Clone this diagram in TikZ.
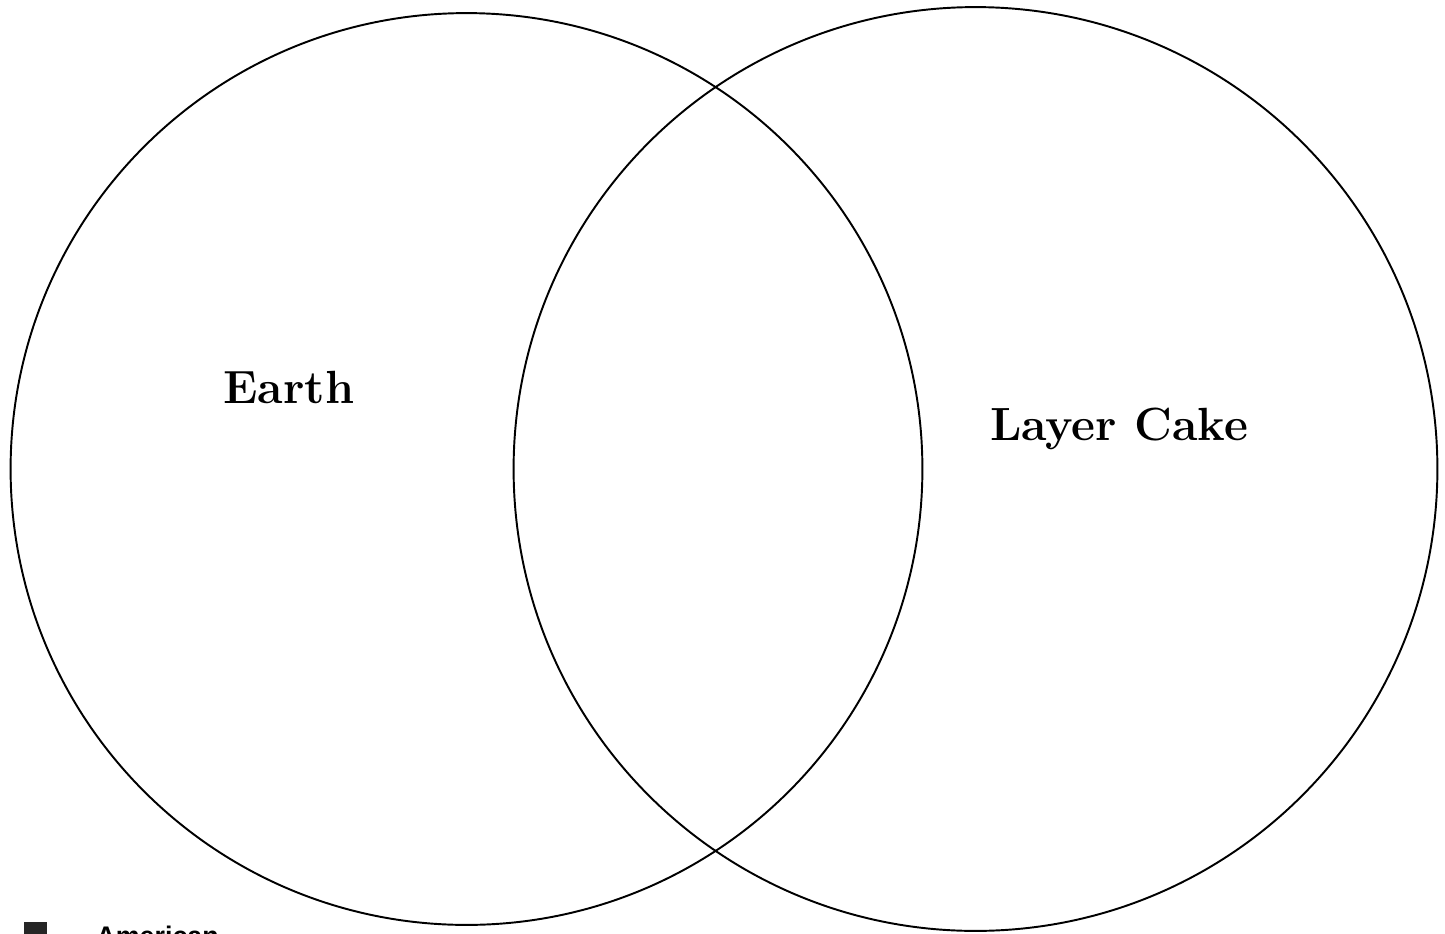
\documentclass[tikz,border=0pt]{standalone}
\usepackage{fontspec}
\newfontfamily\labelsans{Liberation Sans}

\begin{document}
\begin{tikzpicture}[x=0.02cm,y=-0.02cm,line cap=round,line join=round]
  \useasboundingbox (0,0) rectangle (1445,934);
  \coordinate (L) at (466.5,469);
  \coordinate (R) at (975.5,469);
  \draw[line width=1.1pt] (L) circle[radius=9.12cm];
  \draw[line width=1.1pt] (R) circle[radius=9.24cm];
  \node (earth) at (289,387) {\fontsize{26.5}{30}\selectfont\bfseries Earth};
  \node (cake) at (1119,429) {\fontsize{26.5}{30}\selectfont\bfseries Layer Cake};
  \fill[black!85] (24,922) rectangle (47,940);
  \node[anchor=north west,inner sep=0pt] (pub) at (96,925.5) {\labelsans\fontsize{15.3}{18}\selectfont\bfseries American};
\end{tikzpicture}
\end{document}
